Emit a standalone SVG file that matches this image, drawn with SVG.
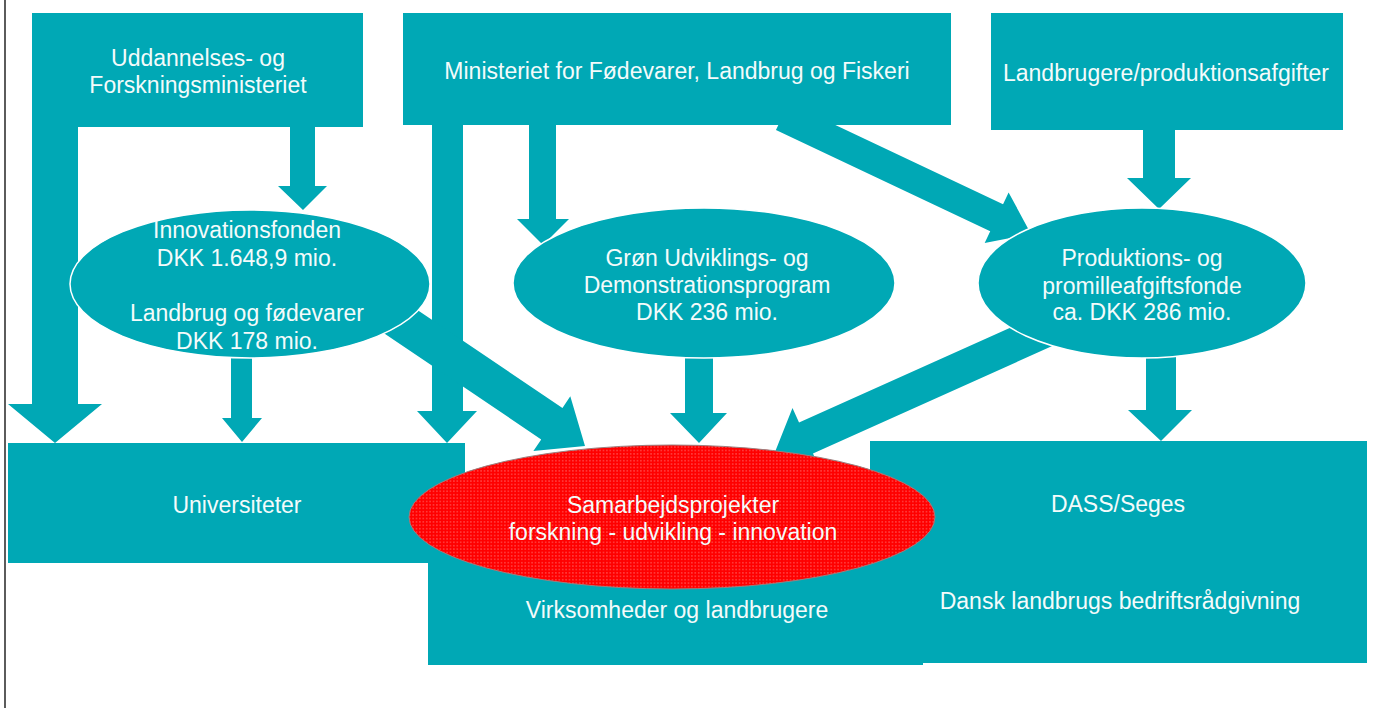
<svg xmlns="http://www.w3.org/2000/svg" width="1374" height="708" viewBox="0 0 1374 708">
<defs>
<style>
.t{fill:#00A8B5}
.e{fill:#00A8B5;stroke:#ffffff;stroke-width:1.5}
.lbl{font-family:"Liberation Sans",Arial,sans-serif;font-size:23px;fill:#F4FBFB;text-anchor:middle}
</style>
<pattern id="dots" patternUnits="userSpaceOnUse" width="3.4" height="3.4">
<rect width="3.4" height="3.4" fill="#FF0000"/>
<circle cx="1.7" cy="1.7" r="0.55" fill="#FF9A9A"/>
</pattern>
</defs>
<rect width="1374" height="708" fill="#ffffff"/>
<line x1="5" y1="0" x2="5" y2="708" stroke="#333333" stroke-width="1.6"/>

<g id="connectors">
<polygon class="t" points="32,100 78,100 78,404 102,404 55,443 8,404 32,404"/>
<polygon class="t" points="290,110 315,110 315,186 327,186 303,210 278,186 290,186"/>
<polygon class="t" points="231,330 252,330 252,418 262,418 242,442 222,418 231,418"/>
<polygon class="t" points="432,110 463,110 463,411 477,411 447,443 417,411 432,411"/>
<polygon class="t" points="529,110 556,110 556,219 569,219 543,245 517,219 529,219"/>
<polygon class="t" points="1143,120 1175,120 1175,178 1191,178 1159,209 1127,178 1143,178"/>
<polygon class="t" points="685,340 713,340 713,413 727,413 699,443 670,413 685,413"/>
<polygon class="t" points="1146,340 1176,340 1176,410 1192,410 1161,441 1128,410 1146,410"/>
<polygon class="t" transform="translate(1031,234) rotate(25.3)" points="0,0 -38,-28 -38,-15 -275,-15 -275,15 -38,15 -38,28"/>
<polygon class="t" transform="translate(585,446) rotate(34)" points="0,0 -40,-33 -40,-19 -290,-19 -290,19 -40,19 -40,33"/>
<polygon class="t" transform="translate(775,452) rotate(155.8)" points="0,0 -34,-33 -34,-17 -380,-17 -380,17 -34,17 -34,33"/>
</g>

<g id="uddannelses">
<rect class="t" x="32" y="13" width="331" height="114"/>
<text class="lbl" x="198" y="66">Uddannelses- og</text>
<text class="lbl" x="198" y="93">Forskningsministeriet</text>
</g>
<g id="ministeriet">
<rect class="t" x="403" y="13" width="548" height="112"/>
<text class="lbl" x="677" y="79">Ministeriet for Fødevarer, Landbrug og Fiskeri</text>
</g>
<g id="landbrugere">
<rect class="t" x="991" y="13" width="352" height="117"/>
<text class="lbl" x="1166" y="81">Landbrugere/produktionsafgifter</text>
</g>

<g id="virksomheder">
<rect class="t" x="428" y="520" width="495" height="145"/>
<text class="lbl" x="677" y="618">Virksomheder og landbrugere</text>
</g>
<g id="universiteter">
<rect class="t" x="8" y="443" width="457" height="120"/>
<text class="lbl" x="237" y="513">Universiteter</text>
</g>
<g id="dass">
<rect class="t" x="870" y="441" width="497" height="222"/>
<text class="lbl" x="1118" y="512">DASS/Seges</text>
<text class="lbl" x="1120" y="609">Dansk landbrugs bedriftsrådgivning</text>
</g>

<g id="innovationsfonden">
<ellipse class="e" cx="250" cy="284" rx="180" ry="74"/>
<text class="lbl" x="247" y="238">Innovationsfonden</text>
<text class="lbl" x="247" y="266">DKK 1.648,9 mio.</text>
<text class="lbl" x="247" y="321">Landbrug og fødevarer</text>
<text class="lbl" x="247" y="349">DKK 178 mio.</text>
</g>
<g id="groen">
<ellipse class="e" cx="704" cy="283" rx="191" ry="75"/>
<text class="lbl" x="707" y="266">Grøn Udviklings- og</text>
<text class="lbl" x="707" y="293">Demonstrationsprogram</text>
<text class="lbl" x="707" y="320">DKK 236 mio.</text>
</g>
<g id="produktions">
<ellipse class="e" cx="1142" cy="283" rx="164" ry="75"/>
<text class="lbl" x="1142" y="266">Produktions- og</text>
<text class="lbl" x="1142" y="294">promilleafgiftsfonde</text>
<text class="lbl" x="1142" y="320">ca. DKK 286 mio.</text>
</g>
<g id="samarbejdsprojekter">
<ellipse cx="672" cy="517" rx="263" ry="72" fill="url(#dots)" stroke="#9a8080" stroke-width="1"/>
<text class="lbl" x="673" y="513">Samarbejdsprojekter</text>
<text class="lbl" x="673" y="540">forskning - udvikling - innovation</text>
</g>
</svg>
